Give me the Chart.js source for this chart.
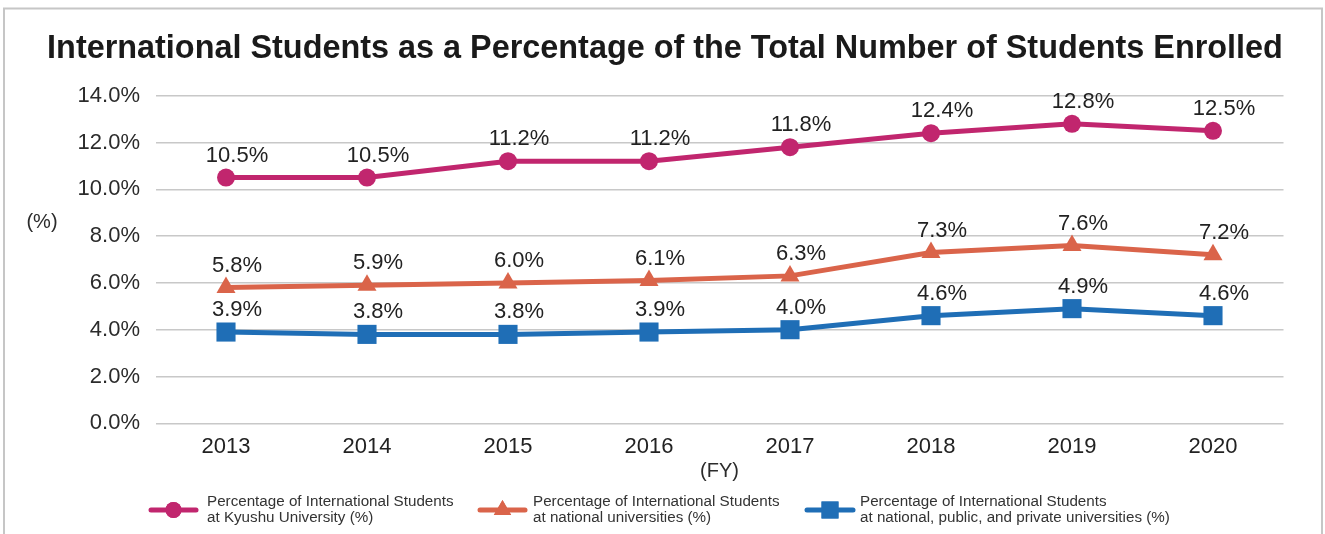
<!DOCTYPE html>
<html>
<head>
<meta charset="utf-8">
<script src="https://cdn.jsdelivr.net/npm/chart.js@4/dist/chart.umd.min.js"></script>
<style>
  html, body { margin: 0; padding: 0; background: #fff; }
  #wrap { width: 1325px; height: 534px; position: relative; }
</style>
</head>
<body>
<div id="wrap"><canvas id="c" width="1325" height="534"></canvas></div>
<script>
// Fiscal years on the category axis
const years = ['2013', '2014', '2015', '2016', '2017', '2018', '2019', '2020'];

// Share of international students (%) per fiscal year
const kyushuPct   = [10.5, 10.5, 11.2, 11.2, 11.8, 12.4, 12.8, 12.5];
const nationalPct = [5.8, 5.9, 6.0, 6.1, 6.3, 7.3, 7.6, 7.2];
const allUnivPct  = [3.9, 3.8, 3.8, 3.9, 4.0, 4.6, 4.9, 4.6];

// Value axis
const yMin = 0, yMax = 14, yStep = 2;

const titleText = 'International Students as a Percentage of the Total Number of Students Enrolled';
const legendLabels = [
  ['Percentage of International Students', 'at Kyushu University (%)'],
  ['Percentage of International Students', 'at national universities (%)'],
  ['Percentage of International Students', 'at national, public, and private universities (%)']
];

const FONT = '"Liberation Sans", Arial, sans-serif';
const C_KYUSHU = '#C1266E';
const C_NATIONAL = '#DA644A';
const C_ALL = '#1F6EB6';

// Frame, title, unit captions, value labels and the legend
const decor = {
  id: 'decor',
  beforeDraw(chart) {
    const ctx = chart.ctx;
    ctx.save();
    ctx.fillStyle = '#fff';
    ctx.fillRect(0, 0, chart.width, chart.height);
    ctx.strokeStyle = '#c6c6c6';
    ctx.lineWidth = 2;
    ctx.strokeRect(4, 8.5, 1318, 600);
    ctx.restore();
  },
  afterDatasetsDraw(chart) {
    const ctx = chart.ctx;
    ctx.save();
    ctx.fillStyle = '#222';
    ctx.font = '22px ' + FONT;
    ctx.textAlign = 'center';
    ctx.textBaseline = 'middle';
    chart.data.datasets.forEach((ds, di) => {
      const meta = chart.getDatasetMeta(di);
      meta.data.forEach((pt, i) => {
        // value labels sit above and slightly right of each marker
        ctx.fillText(ds.data[i].toFixed(1) + '%', pt.x + 11, pt.y - 22);
      });
    });
    ctx.restore();
  },
  afterDraw(chart) {
    const ctx = chart.ctx;
    const area = chart.chartArea;
    ctx.save();
    ctx.fillStyle = '#1a1a1a';
    ctx.font = 'bold 32.4px ' + FONT;
    ctx.textAlign = 'center';
    ctx.textBaseline = 'middle';
    ctx.fillText(titleText, 665, 49);

    ctx.fillStyle = '#2b2b2b';
    ctx.font = '20px ' + FONT;
    ctx.fillText('(%)', 42, 222);
    ctx.fillText('(FY)', (area.left + area.right) / 2, 471);

    // legend
    const items = [
      { x0: 151, x1: 196, color: C_KYUSHU, style: 'circle', r: 8, textX: 207 },
      { x0: 480, x1: 525, color: C_NATIONAL, style: 'triangle', r: 10, textX: 533 },
      { x0: 807, x1: 853, color: C_ALL, style: 'rect', r: 12, textX: 860 }
    ];
    const ly = 510;
    items.forEach((it, i) => {
      ctx.strokeStyle = it.color;
      ctx.fillStyle = it.color;
      ctx.lineWidth = 5;
      ctx.lineCap = 'round';
      ctx.beginPath();
      ctx.moveTo(it.x0, ly);
      ctx.lineTo(it.x1, ly);
      ctx.stroke();
      Chart.helpers.drawPoint(ctx, { pointStyle: it.style, radius: it.r, rotation: 0, borderWidth: 0 }, (it.x0 + it.x1) / 2, ly);
      ctx.fill();
      ctx.fillStyle = '#333';
      ctx.font = '15.2px ' + FONT;
      ctx.textAlign = 'left';
      ctx.textBaseline = 'middle';
      ctx.fillText(legendLabels[i][0], it.textX, 502);
      ctx.fillText(legendLabels[i][1], it.textX, 518);
    });
    ctx.restore();
  }
};

new Chart(document.getElementById('c'), {
  type: 'line',
  data: {
    labels: years,
    datasets: [
      { label: legendLabels[0].join(' '), data: kyushuPct, borderColor: C_KYUSHU, backgroundColor: C_KYUSHU,
        borderWidth: 5, pointStyle: 'circle', pointRadius: 9, pointBorderWidth: 0, tension: 0, clip: false },
      { label: legendLabels[1].join(' '), data: nationalPct, borderColor: C_NATIONAL, backgroundColor: C_NATIONAL,
        borderWidth: 5, pointStyle: 'triangle', pointRadius: 11, pointBorderWidth: 0, tension: 0, clip: false },
      { label: legendLabels[2].join(' '), data: allUnivPct, borderColor: C_ALL, backgroundColor: C_ALL,
        borderWidth: 5, pointStyle: 'rect', pointRadius: 13.5, pointBorderWidth: 0, tension: 0, clip: false }
    ]
  },
  options: {
    responsive: false,
    animation: false,
    devicePixelRatio: 1,
    layout: { padding: { left: 0, right: 41.5, top: 95.7, bottom: 80.7 } },
    plugins: { legend: { display: false }, title: { display: false }, tooltip: { enabled: false } },
    scales: {
      x: {
        offset: true,
        grid: { display: false, drawTicks: false },
        border: { display: false },
        ticks: { color: '#222', font: { family: FONT, size: 22 }, padding: 10.5, maxRotation: 0 },
        afterFit(s) { s.height = 30; }
      },
      y: {
        min: yMin, max: yMax,
        grid: { color: '#c8c8c8', lineWidth: 1.5, drawTicks: false },
        border: { display: false },
        ticks: { stepSize: yStep, color: '#2b2b2b', font: { family: FONT, size: 22 }, padding: 15.5,
                 callback: v => v.toFixed(1) + '%' },
        afterFit(s) { s.width = 155.5; }
      }
    }
  },
  plugins: [decor]
});
</script>
</body>
</html>
